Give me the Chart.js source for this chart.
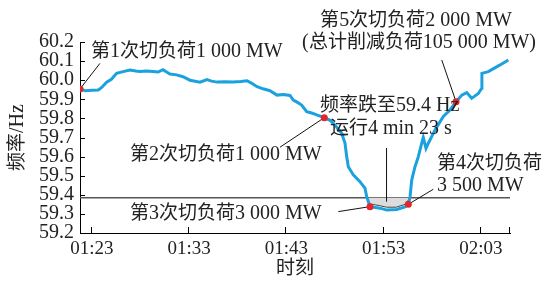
<!DOCTYPE html>
<html>
<head>
<meta charset="utf-8">
<script src="https://cdn.jsdelivr.net/npm/chart.js@4/dist/chart.umd.min.js"></script>
<style>
html,body{margin:0;padding:0;background:#fff}
@font-face{font-family:'CJKs';src:local('Noto Sans CJK SC'),local('Noto Sans CJK SC Regular'),local('NotoSansCJKsc-Regular');size-adjust:95%;}
</style>
</head>
<body>
<canvas id="c" width="549" height="281"></canvas>
<script>
// 时刻 (minutes after 00:00) and 频率 (Hz)
const minutes = [81.77,82.3,83.0,83.65,84.0,84.51,85.0,85.54,86.2,86.91,87.5,87.94,88.6,89.28,89.8,90.3,90.6,91.02,91.7,92.36,
  93.08,94.11,94.83,95.3,95.86,96.7,97.51,98.3,98.95,99.4,99.98,100.6,101.31,102.03,102.7,103.37,103.71,104.1,104.57,105.09,
  105.6,106.12,106.9,107.5,107.83,108.69,109.03,109.2,109.37,109.88,110.57,111.09,111.26,111.43,111.6,112.63,113.32,114.35,115.2,115.54,
  115.72,115.89,116.23,116.57,116.92,117.08,117.36,117.6,118.29,119.14,119.83,120.45,121.04,121.55,122.06,122.74,123.09,123.11,123.77,124.98,125.83];
const freq = [59.954,59.945,59.947,59.949,59.962,59.99,60.005,60.036,60.045,60.053,60.048,60.045,60.048,60.045,60.043,60.055,60.045,60.032,60.028,60.018,
  60.0,59.99,60.003,59.995,59.99,59.992,59.99,59.993,59.997,59.985,59.966,59.955,59.945,59.922,59.925,59.92,59.896,59.885,59.87,59.835,
  59.828,59.818,59.804,59.79,59.774,59.722,59.67,59.6,59.547,59.504,59.469,59.434,59.39,59.364,59.338,59.33,59.32,59.323,59.337,59.35,
  59.39,59.477,59.547,59.6,59.67,59.7,59.643,59.67,59.74,59.81,59.844,59.887,59.922,59.935,59.905,59.93,59.958,60.036,60.045,60.08,60.106];

// 切负荷 points
const cutMinutes = [81.77,106.9,111.6,115.54,120.45];
const cutFreq = [59.954,59.804,59.338,59.35,59.887];

// below 59.4 Hz region
const dipMinutes = [111.26,111.6,112.6,113.3,114.3,115.2,115.6,115.72];
const dipFreq = [59.385,59.352,59.343,59.335,59.335,59.35,59.375,59.385];
const limitFreq = 59.385;

// leader lines: [from minute, from Hz, to minute, to Hz]
const leaders = [
  [81.77,59.954,83.82,60.088],
  [106.9,59.804,102.34,59.649],
  [111.6,59.338,108.34,59.312],
  [115.54,59.35,118.11,59.429],
  [120.45,59.887,118.98,60.106],
  [113.3,59.364,113.3,59.645]
];

const xTickValues = [83,93,103,113,123];
const xTickLabels = ['01:23','01:33','01:43','01:53','02:03'];
const yTickValues = [59.2,59.3,59.4,59.5,59.6,59.7,59.8,59.9,60.0,60.1,60.2];

const FONT = "'Liberation Serif','CJKs','Noto Sans CJK SC',serif";
Chart.defaults.font.family = FONT;
Chart.defaults.font.size = 20;
Chart.defaults.color = '#222';

const notes = [
  {t:'第1次切负荷1 000 MW', x:91, y:52, a:'left'},
  {t:'第5次切负荷2 000 MW', x:416, y:21, a:'center'},
  {t:'(总计削减负荷105 000 MW)', x:419, y:43, a:'center'},
  {t:'频率跌至59.4 Hz', x:320, y:106, a:'left'},
  {t:'运行4 min 23 s', x:330, y:129, a:'left'},
  {t:'第2次切负荷1 000 MW', x:130, y:155, a:'left'},
  {t:'第3次切负荷3 000 MW', x:130, y:214, a:'left'},
  {t:'第4次切负荷', x:437, y:164, a:'left'},
  {t:'3 500 MW', x:437, y:186, a:'left'}
];

const extras = {
  id: 'extras',
  afterDraw(chart) {
    const {ctx, scales: {x, y}} = chart;
    ctx.save();
    ctx.strokeStyle = '#000';
    ctx.lineWidth = 1;
    ctx.beginPath();
    y.ticks.forEach(t => {
      const py = Math.round(y.getPixelForValue(t.value)) + 0.5;
      ctx.moveTo(x.left, py); ctx.lineTo(x.left + 5, py);
    });
    [...xTickValues, x.max].forEach(v => {
      const px = Math.round(x.getPixelForValue(v)) - 0.5;
      ctx.moveTo(px, y.bottom); ctx.lineTo(px, y.bottom - 6);
    });
    ctx.stroke();
    ctx.fillStyle = '#222';
    ctx.font = '20px ' + FONT;
    ctx.textBaseline = 'middle';
    notes.forEach(n => { ctx.textAlign = n.a; ctx.fillText(n.t, n.x, n.y); });
    ctx.restore();
  }
};

const pts = (xs, ys) => xs.map((v, i) => ({x: v, y: ys[i]}));

function draw() {
  const datasets = [
    {type:'scatter', data: pts(cutMinutes, cutFreq), pointRadius: 3.5, pointBackgroundColor: '#e3262b', pointBorderWidth: 0, order: 0},
    {data: pts(minutes, freq), borderColor: '#1ba1de', borderWidth: 3, pointRadius: 0, tension: 0, order: 1},
    ...leaders.map(l => ({data: [{x:l[0],y:l[1]},{x:l[2],y:l[3]}], borderColor: '#111', borderWidth: 1, pointRadius: 0, order: 2})),
    {data: pts(dipMinutes, dipFreq), borderColor: '#444', borderWidth: 1, pointRadius: 0, backgroundColor: '#dcdcdc', fill: {value: limitFreq}, order: 3},
    {data: [{x: minutes[0], y: limitFreq}, {x: 126, y: limitFreq}], borderColor: '#555', borderWidth: 1.5, pointRadius: 0, order: 4}
  ];

  new Chart(document.getElementById('c'), {
    type: 'line',
    data: {datasets},
    options: {
      responsive: false,
      animation: false,
      layout: {padding: {top: 42, right: 39, left: 0, bottom: 0}},
      plugins: {legend: {display: false}, tooltip: {enabled: false}},
      scales: {
        x: {
          type: 'linear', min: 81.77, max: 126,
          afterBuildTicks: s => { s.ticks = xTickValues.map(v => ({value: v})); },
          afterFit: s => { s.height = 48; },
          ticks: {padding: 5, maxRotation: 0, font: {size: 19}, callback: v => xTickLabels[xTickValues.indexOf(v)]},
          grid: {drawOnChartArea: false, drawTicks: false},
          border: {color: '#000', width: 1},
          title: {display: true, text: '时刻', padding: {top: 0, bottom: 0}}
        },
        y: {
          min: 59.2, max: 60.2,
          afterBuildTicks: s => { s.ticks = yTickValues.map(v => ({value: v})); },
          afterFit: s => { s.width = 80; },
          ticks: {padding: 6, autoSkip: false, callback: v => v.toFixed(1)},
          grid: {drawOnChartArea: false, drawTicks: false},
          border: {color: '#000', width: 1},
          title: {display: true, text: '频率/Hz', padding: {top: 6, bottom: 0}}
        }
      }
    },
    plugins: [extras]
  });
}

document.fonts.load('20px CJKs', '频率').then(draw, draw);
</script>
</body>
</html>
